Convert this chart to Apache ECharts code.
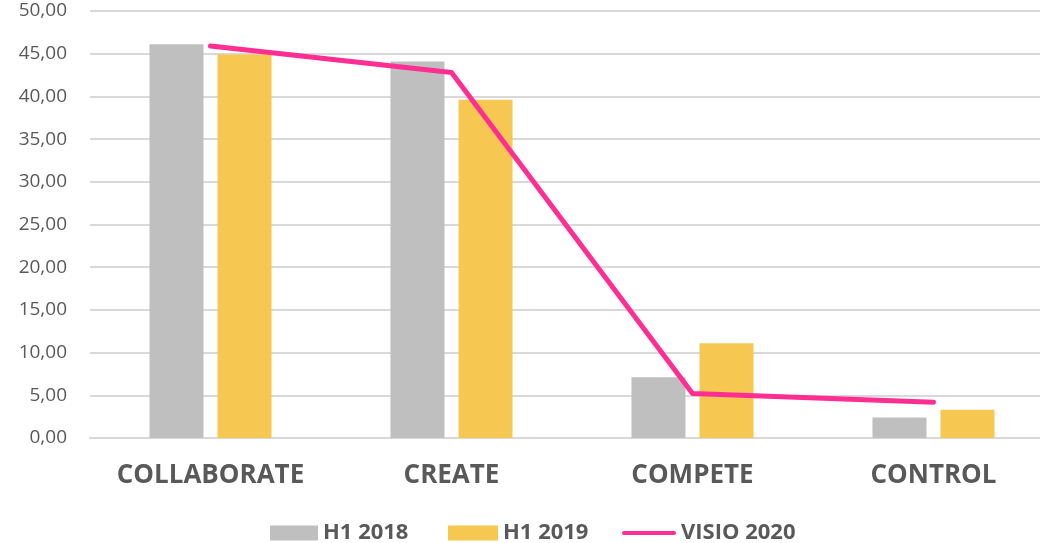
<!DOCTYPE html>
<html>
<head>
<meta charset="utf-8">
<script src="https://cdn.jsdelivr.net/npm/echarts@6/dist/echarts.min.js"></script>
<style>
  html, body { margin: 0; padding: 0; background: #fff; }
  #chart { width: 1040px; height: 543px; }
</style>
</head>
<body>
<div id="chart"></div>
<script>
const categories = ["COLLABORATE", "CREATE", "COMPETE", "CONTROL"];
const h12018 = [46.1, 44.1, 7.1, 2.4];
const h12019 = [44.9, 39.6, 11.1, 3.3];
const visio2020 = [45.9, 42.8, 5.2, 4.2];

const myChart = echarts.init(document.getElementById("chart"));
const labelFont = "'Open Sans', 'DejaVu Sans', sans-serif";
// thin rounded bar, padded to the full 54x15 legend box
const lineIcon =
  "path://M0,0 M54,15 M2,5.5 L52,5.5 A2,2 0 0 1 52,9.5 L2,9.5 A2,2 0 0 1 2,5.5 Z";

const legendText = {
  fontFamily: labelFont,
  fontWeight: "bold",
  fontSize: 22,
  color: "#595959",
};

function legendAt(left, name, icon, width) {
  return {
    top: 517,
    left: left,
    itemWidth: width,
    itemHeight: 15,
    textStyle: legendText,
    data: [{ name: name, icon: icon }],
  };
}

const option = {
  animation: false,
  grid: {
    left: 90,
    top: 11,
    right: -14,
    bottom: 105,
    outerBoundsMode: "none",
  },
  legend: [
    legendAt(265, "H1 2018", "rect", 48),
    legendAt(443, "H1 2019", "rect", 50),
    legendAt(617, "VISIO 2020", lineIcon, 54),
  ],
  xAxis: {
    type: "category",
    data: categories,
    axisTick: { show: false },
    axisLine: { lineStyle: { color: "#D9D9D9", width: 2 } },
    axisLabel: {
      interval: 0,
      margin: 25,
      fontFamily: labelFont,
      fontWeight: "bold",
      fontSize: 26,
      color: "#595959",
    },
  },
  yAxis: {
    type: "value",
    min: 0,
    max: 50,
    interval: 5,
    axisLine: { show: false },
    axisTick: { show: false },
    splitLine: { lineStyle: { color: "#D9D9D9", width: 2 } },
    axisLabel: {
      margin: 23,
      fontFamily: labelFont,
      fontSize: 19,
      color: "#595959",
      formatter: (v) => v.toFixed(2).replace(".", ","),
    },
  },
  series: [
    {
      name: "H1 2018",
      type: "bar",
      data: h12018,
      barWidth: 54,
      barGap: "26%",
      itemStyle: { color: "#BFBFBF" },
    },
    {
      name: "H1 2019",
      type: "bar",
      data: h12019,
      barWidth: 54,
      itemStyle: { color: "#F6C851" },
    },
    {
      name: "VISIO 2020",
      type: "line",
      data: visio2020,
      symbol: "none",
      z: 5,
      lineStyle: { color: "#FF2E93", width: 5, cap: "round", join: "round" },
      itemStyle: { color: "#FF2E93" },
    },
  ],
};

myChart.setOption(option);
</script>
</body>
</html>
